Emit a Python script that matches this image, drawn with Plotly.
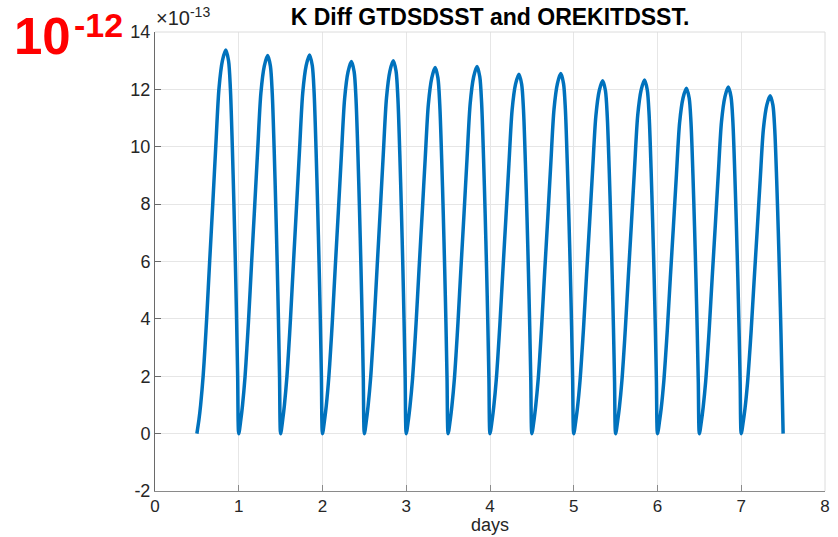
import plotly.graph_objects as go

# ---- data (days, K difference in units of 1e-13) ----
days = [
    0.500, 0.525, 0.545, 0.575, 0.597, 0.617, 0.653, 0.690, 0.726, 0.764, 0.805, 0.845, 0.878, 0.900, 0.923, 0.942, 0.959, 0.974, 0.987,
    1.000, 1.025, 1.045, 1.075, 1.097, 1.117, 1.153, 1.190, 1.226, 1.264, 1.305, 1.345, 1.378, 1.400, 1.423, 1.442, 1.459, 1.474, 1.487,
    1.500, 1.525, 1.545, 1.575, 1.597, 1.617, 1.653, 1.690, 1.726, 1.764, 1.805, 1.845, 1.878, 1.900, 1.923, 1.942, 1.959, 1.974, 1.987,
    2.000, 2.025, 2.045, 2.075, 2.097, 2.117, 2.153, 2.190, 2.226, 2.264, 2.305, 2.345, 2.378, 2.400, 2.423, 2.442, 2.459, 2.474, 2.487,
    2.500, 2.525, 2.545, 2.575, 2.597, 2.617, 2.653, 2.690, 2.726, 2.764, 2.805, 2.845, 2.878, 2.900, 2.923, 2.942, 2.959, 2.974, 2.987,
    3.000, 3.025, 3.045, 3.075, 3.097, 3.117, 3.153, 3.190, 3.226, 3.264, 3.305, 3.345, 3.378, 3.400, 3.423, 3.442, 3.459, 3.474, 3.487,
    3.500, 3.525, 3.545, 3.575, 3.597, 3.617, 3.653, 3.690, 3.726, 3.764, 3.805, 3.845, 3.878, 3.900, 3.923, 3.942, 3.959, 3.974, 3.987,
    4.000, 4.025, 4.045, 4.075, 4.097, 4.117, 4.153, 4.190, 4.226, 4.264, 4.305, 4.345, 4.378, 4.400, 4.423, 4.442, 4.459, 4.474, 4.487,
    4.500, 4.525, 4.545, 4.575, 4.597, 4.617, 4.653, 4.690, 4.726, 4.764, 4.805, 4.845, 4.878, 4.900, 4.923, 4.942, 4.959, 4.974, 4.987,
    5.000, 5.025, 5.045, 5.075, 5.097, 5.117, 5.153, 5.190, 5.226, 5.264, 5.305, 5.345, 5.378, 5.400, 5.423, 5.442, 5.459, 5.474, 5.487,
    5.500, 5.525, 5.545, 5.575, 5.597, 5.617, 5.653, 5.690, 5.726, 5.764, 5.805, 5.845, 5.878, 5.900, 5.923, 5.942, 5.959, 5.974, 5.987,
    6.000, 6.025, 6.045, 6.075, 6.097, 6.117, 6.153, 6.190, 6.226, 6.264, 6.305, 6.345, 6.378, 6.400, 6.423, 6.442, 6.459, 6.474, 6.487,
    6.500, 6.525, 6.545, 6.575, 6.597, 6.617, 6.653, 6.690, 6.726, 6.764, 6.805, 6.845, 6.878, 6.900, 6.923, 6.942, 6.959, 6.974, 6.987,
    7.000, 7.025, 7.045, 7.075, 7.097, 7.117, 7.153, 7.190, 7.226, 7.264, 7.305, 7.345, 7.378, 7.400, 7.423, 7.442, 7.459, 7.474, 7.487,
    7.500,
]

k_diff = [
    0, 0.49, 1.00, 2.01, 3.01, 4.01, 6.02, 8.02, 10.03, 12.03, 13.00, 13.37, 13.00, 12.03, 10.03, 8.02, 6.02, 4.01, 2.01,
    0, 0.49, 0.99, 1.98, 2.97, 3.95, 5.93, 7.91, 9.89, 11.86, 12.81, 13.18, 12.81, 11.86, 9.89, 7.91, 5.93, 3.95, 1.98,
    0, 0.49, 0.99, 1.98, 2.97, 3.96, 5.94, 7.92, 9.90, 11.88, 12.83, 13.20, 12.83, 11.88, 9.90, 7.92, 5.94, 3.96, 1.98,
    0, 0.48, 0.97, 1.95, 2.92, 3.89, 5.84, 7.78, 9.73, 11.67, 12.61, 12.97, 12.61, 11.67, 9.73, 7.78, 5.84, 3.89, 1.95,
    0, 0.48, 0.98, 1.95, 2.93, 3.90, 5.85, 7.80, 9.75, 11.70, 12.64, 13.00, 12.64, 11.70, 9.75, 7.80, 5.85, 3.90, 1.95,
    0, 0.47, 0.96, 1.91, 2.87, 3.83, 5.74, 7.66, 9.57, 11.48, 12.40, 12.76, 12.40, 11.48, 9.57, 7.66, 5.74, 3.83, 1.91,
    0, 0.47, 0.96, 1.92, 2.88, 3.84, 5.76, 7.68, 9.60, 11.52, 12.44, 12.80, 12.44, 11.52, 9.60, 7.68, 5.76, 3.84, 1.92,
    0, 0.46, 0.94, 1.88, 2.82, 3.76, 5.64, 7.52, 9.40, 11.28, 12.18, 12.53, 12.18, 11.28, 9.40, 7.52, 5.64, 3.76, 1.88,
    0, 0.46, 0.94, 1.88, 2.82, 3.77, 5.65, 7.53, 9.41, 11.30, 12.20, 12.55, 12.20, 11.30, 9.41, 7.53, 5.65, 3.77, 1.88,
    0, 0.46, 0.92, 1.85, 2.77, 3.69, 5.54, 7.38, 9.23, 11.07, 11.96, 12.30, 11.96, 11.07, 9.23, 7.38, 5.54, 3.69, 1.85,
    0, 0.46, 0.92, 1.85, 2.77, 3.70, 5.55, 7.40, 9.25, 11.10, 11.98, 12.33, 11.98, 11.10, 9.25, 7.40, 5.55, 3.70, 1.85,
    0, 0.45, 0.90, 1.81, 2.71, 3.61, 5.42, 7.22, 9.03, 10.84, 11.70, 12.04, 11.70, 10.84, 9.03, 7.22, 5.42, 3.61, 1.81,
    0, 0.45, 0.91, 1.81, 2.72, 3.62, 5.44, 7.25, 9.06, 10.87, 11.74, 12.08, 11.74, 10.87, 9.06, 7.25, 5.44, 3.62, 1.81,
    0, 0.44, 0.88, 1.77, 2.65, 3.53, 5.30, 7.07, 8.84, 10.60, 11.45, 11.78, 11.45, 10.60, 8.84, 7.07, 5.30, 3.53, 1.77,
    0,
]

x_ticks = [0, 1, 2, 3, 4, 5, 6, 7, 8]
y_ticks = [-2, 0, 2, 4, 6, 8, 10, 12, 14]

title_text = "K Diff GTDSDSST and OREKITDSST."
x_label = "days"
exp_label = "×10<sup>-13</sup>"

FONT = "Liberation Sans, Arial, Helvetica, sans-serif"
AX = "#262626"

fig = go.Figure()
fig.add_trace(go.Scatter(
    x=days, y=k_diff, mode="lines",
    line=dict(color="#0072BD", width=3.5, shape="spline", smoothing=0.8),
    hoverinfo="skip", showlegend=False,
))

L, R, T, B = 155, 13, 32, 46
W, H = 838, 537
pw, ph = W - L - R, H - T - B

def px_x(p):
    return (p - L) / pw

def px_y(p):
    return (H - B - p) / ph

fig.update_layout(
    width=W, height=H,
    margin=dict(l=L, r=R, t=T, b=B, pad=0, autoexpand=False),
    paper_bgcolor="white", plot_bgcolor="white",
    font=dict(family=FONT, color=AX, size=18),
    title=dict(text="<b>" + title_text + "</b>", x=0.5, xref="paper",
               y=1 - 17 / H, yref="container", xanchor="center", yanchor="middle",
               font=dict(size=23, color="black", family=FONT)),
    xaxis=dict(range=[0, 8], tickvals=x_ticks, ticktext=[str(v) for v in x_ticks],
               showgrid=True, gridcolor="#e6e6e6", gridwidth=1,
               showline=True, linecolor="#8a8a8a", linewidth=1, mirror=False,
               ticks="inside", ticklen=6, tickcolor="#8a8a8a",
               zeroline=False, tickfont=dict(size=17, color=AX), automargin=False),
    yaxis=dict(range=[-2, 14], tickvals=y_ticks, ticktext=[str(v) for v in y_ticks],
               showgrid=True, gridcolor="#e6e6e6", gridwidth=1,
               showline=True, linecolor="#6a6a6a", linewidth=1, mirror=False,
               ticks="inside", ticklen=6, tickcolor="#6a6a6a",
               zeroline=False, tickfont=dict(size=18, color=AX), automargin=False),
)

# light box on top / right (MATLAB box on)
fig.add_shape(type="line", xref="paper", yref="paper", x0=0, x1=1, y0=1, y1=1,
              line=dict(color="#dcdcdc", width=1))
fig.add_shape(type="line", xref="paper", yref="paper", x0=1, x1=1, y0=0, y1=1,
              line=dict(color="#dcdcdc", width=1))

# x-axis label
fig.add_annotation(text=x_label, xref="paper", yref="paper",
                   x=0.5, y=px_y(537), xanchor="center", yanchor="bottom",
                   showarrow=False, font=dict(size=18, color=AX, family=FONT))

# exponent label
fig.add_annotation(text=exp_label, xref="paper", yref="paper",
                   x=px_x(154), y=px_y(31), xanchor="left", yanchor="bottom",
                   showarrow=False, font=dict(size=20, color=AX, family=FONT))

# red overlay "10^-12"
fig.add_annotation(text="<b>10</b>", xref="paper", yref="paper",
                   x=px_x(12), y=px_y(36), xanchor="left", yanchor="middle",
                   showarrow=False, font=dict(size=51, color="#ff0000", family=FONT))
fig.add_annotation(text="<b>-12</b>", xref="paper", yref="paper",
                   x=px_x(72), y=px_y(25), xanchor="left", yanchor="middle",
                   showarrow=False, font=dict(size=34, color="#ff0000", family=FONT))

fig.write_html("out.html")
